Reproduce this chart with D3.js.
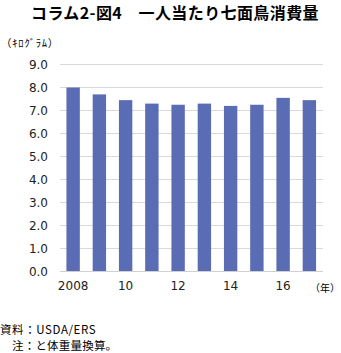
<!DOCTYPE html>
<html><head><meta charset="utf-8">
<script src="https://cdn.jsdelivr.net/npm/d3@7"></script>
<style>
body{margin:0;background:#fff;}
svg{display:block;}
</style></head>
<body>
<svg id="c" width="341" height="353"></svg>
<script>
const years = ["2008","2009","2010","2011","2012","2013","2014","2015","2016","2017"];
const values = [8.0, 7.7, 7.45, 7.3, 7.25, 7.3, 7.2, 7.25, 7.55, 7.45];
const xTickLabels = {"2008":"2008","2010":"10","2012":"12","2014":"14","2016":"16"};
const yTicks = [0,1,2,3,4,5,6,7,8,9];
const title = "コラム2-図4　一人当たり七面鳥消費量";
const yUnit = "（ｷﾛｸﾞﾗﾑ）";
const xUnit = "（年）";
const source = "資料：USDA/ERS";
const note = "注：と体重量換算。";

const svg = d3.select("#c");
const jp = "'Noto Sans CJK JP', sans-serif";
const num = "'DejaVu Sans', sans-serif";
const L = 60, R = 322.5, T = 64.5, B = 271.5;

const x = d3.scaleBand().domain(years).range([L, R]).paddingInner(0.49).paddingOuter(0.245);
const y = d3.scaleLinear().domain([0, 9]).range([B, T]);

svg.append("text").attr("x", 175).attr("y", 19).attr("text-anchor","middle")
  .attr("font-family", jp).attr("font-weight", "bold").attr("font-size", 16)
  .attr("letter-spacing", 0.4).attr("fill", "#000").text(title);

svg.append("text").attr("x", 1).attr("y", 47)
  .attr("font-family", jp).attr("font-size", 10.5).attr("letter-spacing", 0.8).attr("fill", "#000").text(yUnit);

// gridlines
svg.append("g").selectAll("line").data(yTicks.filter(d => d > 0)).join("line")
  .attr("x1", L).attr("x2", R).attr("y1", d => y(d)).attr("y2", d => y(d))
  .attr("stroke", "#d9d9d9").attr("stroke-width", 1).attr("shape-rendering","crispEdges");

// y axis
const yAxis = d3.axisLeft(y).tickValues(yTicks).tickFormat(d3.format(".1f")).tickSize(0).tickPadding(12);
const gy = svg.append("g").attr("transform", `translate(${L},0)`).call(yAxis);
gy.select(".domain").remove();
gy.selectAll("text").attr("font-family", num).attr("font-size", 12).attr("fill", "#222").attr("dy", "0.36em");

// bars
svg.append("g").selectAll("rect").data(years).join("rect")
  .attr("x", d => x(d)).attr("width", x.bandwidth())
  .attr("y", (d,i) => y(values[i])).attr("height", (d,i) => B - y(values[i]))
  .attr("fill", "#5a6db4");

// baseline
svg.append("line").attr("x1", L).attr("x2", R).attr("y1", B).attr("y2", B)
  .attr("stroke", "#d0d0d0").attr("stroke-width", 1).attr("shape-rendering","crispEdges");

// x axis
const xAxis = d3.axisBottom(x).tickValues(Object.keys(xTickLabels)).tickFormat(d => xTickLabels[d]).tickSize(0).tickPadding(10);
const gx = svg.append("g").attr("transform", `translate(0,${B})`).call(xAxis);
gx.select(".domain").remove();
gx.selectAll("text").attr("font-family", num).attr("font-size", 12).attr("fill", "#222");

svg.append("text").attr("x", 310).attr("y", 292)
  .attr("font-family", jp).attr("font-size", 10).attr("fill", "#000").text(xUnit);

svg.append("text").attr("x", 0).attr("y", 334)
  .attr("font-family", jp).attr("font-size", 11.5).attr("letter-spacing", 0.6).attr("fill", "#000").text(source);
svg.append("text").attr("x", 12).attr("y", 350)
  .attr("font-family", jp).attr("font-size", 11.5).attr("letter-spacing", 0.2).attr("fill", "#000").text(note);
</script>
</body></html>
